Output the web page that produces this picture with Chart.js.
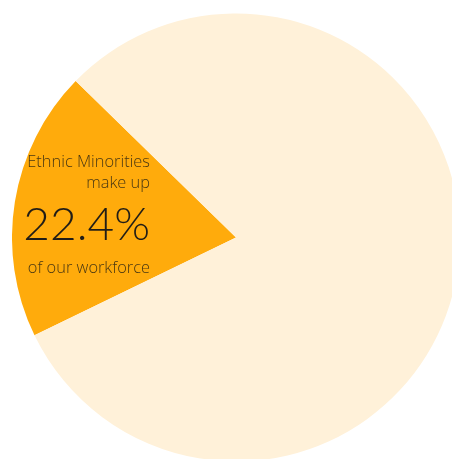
<!DOCTYPE html>
<html>
<head>
<meta charset="utf-8">
<script src="https://cdn.jsdelivr.net/npm/chart.js@4"></script>
<style>
  html, body { margin: 0; padding: 0; background: #ffffff; overflow: hidden; }
  body { width: 452px; height: 459px; position: relative; }
  #wrap { position: absolute; left: 12px; top: 13px; width: 448px; height: 449px; }
</style>
</head>
<body>
<div id="wrap"><canvas id="pieChart" width="448" height="449"></canvas></div>
<script>
// Shares as drawn (the wedge in the picture is a little narrower than the headline figure)
const groups = ["Ethnic Minorities", "Rest of workforce"];
const shares = [19.5, 80.5];
const sliceColors = ["#ffab0c", "#fff1d9"];

// Callout text inside the orange wedge
const leadLines = ["Ethnic Minorities", "make up"];
const headline = "22.4%";
const tailLine = "of our workforce";

const calloutPlugin = {
  id: "callout",
  afterDraw(chart) {
    const ctx = chart.ctx;
    const offX = -12, offY = -13; // page coords -> canvas coords
    const right = 150 + offX;
    const smallFont = "300 16.4px 'Open Sans'";
    ctx.save();
    ctx.textAlign = "right";
    ctx.textBaseline = "alphabetic";
    ctx.fillStyle = "#4a3812";
    ctx.font = smallFont;
    ctx.fillText(leadLines[0], right, 167 + offY);
    ctx.fillText(leadLines[1], right, 188 + offY);
    ctx.fillStyle = "#211d17";
    ctx.font = "300 46px Lato";
    ctx.fillText(headline, right, 240 + offY);
    ctx.fillStyle = "#4a3812";
    ctx.font = smallFont;
    ctx.fillText(tailLine, right, 273 + offY);
    ctx.restore();
  }
};

new Chart(document.getElementById("pieChart"), {
  type: "pie",
  data: {
    labels: groups,
    datasets: [{
      data: shares,
      backgroundColor: sliceColors,
      borderWidth: 0,
      hoverOffset: 0
    }]
  },
  options: {
    responsive: false,
    animation: false,
    rotation: 244.1,
    layout: { padding: 0 },
    plugins: {
      legend: { display: false },
      tooltip: { enabled: false }
    }
  },
  plugins: [calloutPlugin]
});
</script>
</body>
</html>
